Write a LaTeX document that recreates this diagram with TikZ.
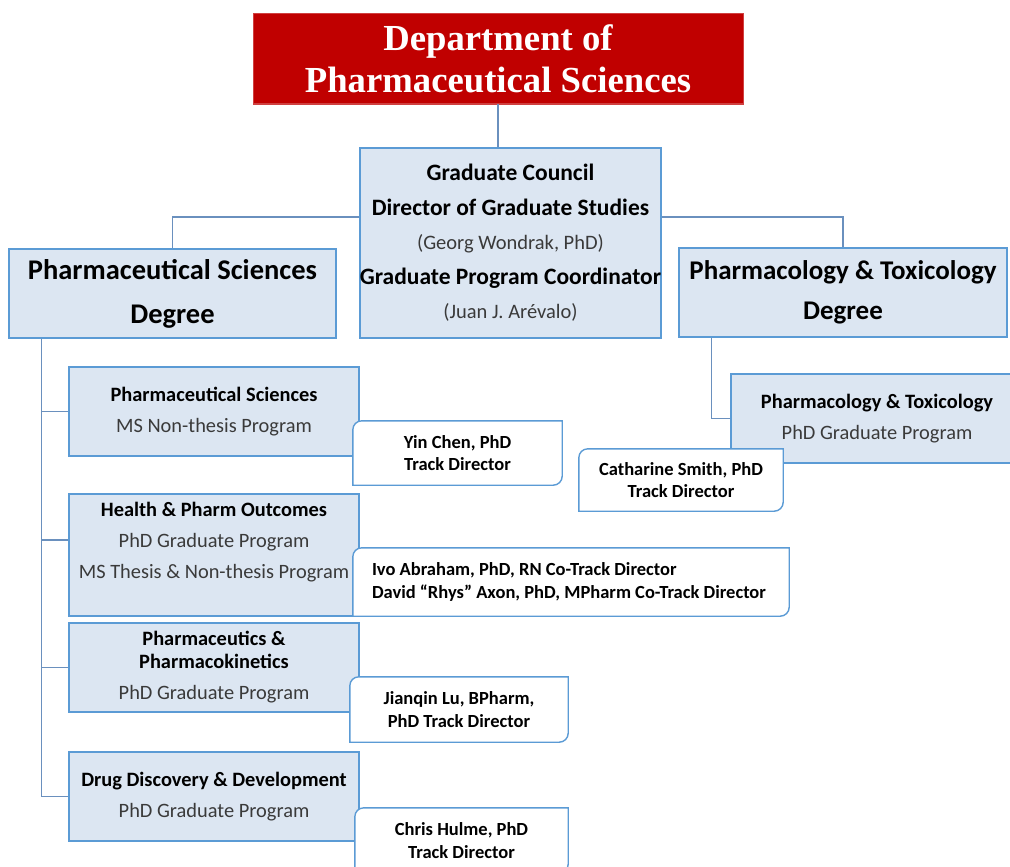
\documentclass[tikz,border=0pt]{standalone}
\usepackage{fontspec}
\setmainfont{Carlito}
\newfontfamily\titlefont{Liberation Serif}
\usetikzlibrary{calc}
\definecolor{bdr}{HTML}{5B9BD5}
\definecolor{fillb}{HTML}{DCE6F2}
\definecolor{conncol}{HTML}{6A90BE}
\definecolor{dred}{HTML}{C00000}
\definecolor{subtxt}{HTML}{3A3A3A}
\newcommand\fs[2]{\fontsize{#1}{#2}\selectfont}
\newcommand\hd[1]{{\bfseries\color{black}#1}}
\tikzset{
  titlebox/.style={fill=dred, draw=dred!75!white, line width=1, minimum width=490, minimum height=90,
    text=white, font=\titlefont\bfseries\fs{36.7}{42}, align=center, inner sep=0},
  bluebox/.style={draw=bdr, fill=fillb, line width=1.4, align=center, inner sep=0},
  degbox/.style={bluebox, minimum height=89, font=\bfseries\fs{28.5}{44}},
  progbox/.style={bluebox, minimum width=290, minimum height=89, font=\fs{20.4}{31}, text=subtxt},
  dframe/.style={inner sep=0, draw=none},
  dirtext/.style={inner sep=0, font=\bfseries\fs{18.5}{22.5}, align=center},
  dshape/.style={draw=bdr, fill=white, line width=1.4},
  connector/.style={draw=conncol, line width=1.6}
}
\newcommand\dirshape[1]{%
  \path[dshape] (#1.north east) -- ([yshift=9pt]#1.south east)
    arc[start angle=0, end angle=-90, radius=9pt] -- (#1.south west)
    -- ([yshift=-9pt]#1.north west) arc[start angle=180, end angle=90, radius=9pt] -- cycle;}
\begin{document}
\begin{tikzpicture}[x=1pt, y=-1pt]
\path[use as bounding box] (0,0) rectangle (1010,867);
\clip (0,0) rectangle (1010,867);

% top
\node[titlebox] (title) at (498,59) {Department of\\Pharmaceutical Sciences};
\node[bluebox, minimum width=301, minimum height=190, font=\fs{23.5}{34.5}] (council) at (510.5,243)
  {\hd{Graduate Council}\\\hd{Director of Graduate Studies}\\{\fs{20.5}{34}\color{subtxt}(Georg Wondrak, PhD)}\\\hd{Graduate Program Coordinator}\\{\fs{20.5}{34}\color{subtxt}(Juan J. Arévalo)}};
\node[degbox, minimum width=327] (ldeg) at (172.5,293.5) {Pharmaceutical Sciences\\Degree};
\node[degbox, minimum width=328, font=\bfseries\fs{27}{40}] (rdeg) at (843,292.5) {Pharmacology \& Toxicology\\Degree};

\draw[connector] (title.south) -- (title.south |- council.north);
\draw[connector] ([yshift=26pt]council.west) -| (ldeg.north);
\draw[connector] ([yshift=26pt]council.east) -| (rdeg.north);

% left programs
\node[progbox] (p1) at (214,411.5) {\hd{Pharmaceutical Sciences}\\MS Non-thesis Program};
\node[progbox, minimum height=122] (p2) at (214,555) {\hd{Health \& Pharm Outcomes}\\PhD Graduate Program\\MS Thesis \& Non-thesis Program\\[-1pt]\mbox{}};
\node[progbox] (p3) at (214,667.5) {\hd{Pharmaceutics \&}\\[-8pt]\hd{Pharmacokinetics}\\PhD Graduate Program};
\node[progbox] (p4) at (214,796.5) {\hd{Drug Discovery \& Development}\\PhD Graduate Program};

\coordinate (tr) at ($(ldeg.south west)+(33,0)$);
\coordinate (p2b) at ([yshift=15pt]p2.west);
\draw[connector] (tr) |- (p4.west);
\draw[connector] (tr |- p1.west) -- (p1.west);
\draw[connector] (tr |- p2b) -- (p2b);
\draw[connector] (tr |- p3.west) -- (p3.west);

% right program
\node[progbox, minimum width=292] (pt) at (877,418.5) {\hd{Pharmacology \& Toxicology}\\PhD Graduate Program};
\coordinate (trr) at ($(rdeg.south west)+(33,0)$);
\draw[connector] (trr) |- (pt.west);

% directors
\node[dframe, minimum width=209, minimum height=64] (d1) at (457.5,453) {};
\dirshape{d1}
\node[dirtext] (d1t) at (d1.center) {Yin Chen, PhD\\Track Director};

\node[dframe, minimum width=436, minimum height=68] (d2) at (571,582) {};
\dirshape{d2}
\node[dirtext, align=left, anchor=west] (d2t) at ([xshift=19pt]d2.west) {Ivo Abraham, PhD, RN Co-Track Director\\David “Rhys” Axon, PhD, MPharm Co-Track Director};

\node[dframe, minimum width=218, minimum height=65] (d3) at (459,709.5) {};
\dirshape{d3}
\node[dirtext] (d3t) at (d3.center) {Jianqin Lu, BPharm,\\PhD Track Director};

\node[dframe, minimum width=213, minimum height=65] (d4) at (461.5,840.5) {};
\dirshape{d4}
\node[dirtext] (d4t) at (d4.center) {Chris Hulme, PhD\\Track Director};

\node[dframe, minimum width=204, minimum height=62] (dpt) at (681,480) {};
\dirshape{dpt}
\node[dirtext] (dptt) at (dpt.center) {Catharine Smith, PhD\\Track Director};
\end{tikzpicture}
\end{document}
